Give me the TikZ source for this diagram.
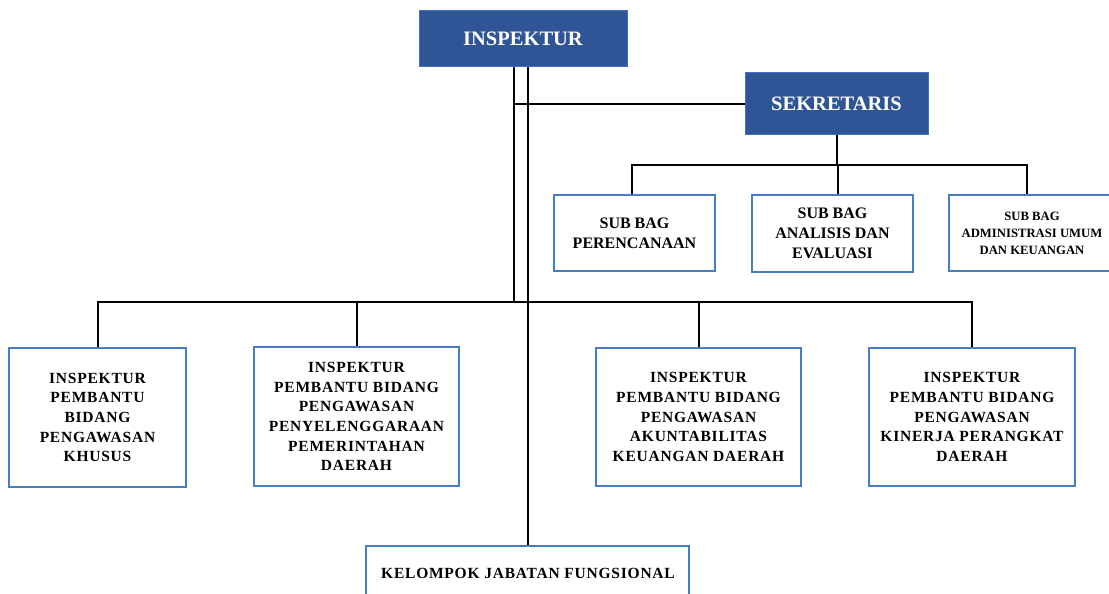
\documentclass[tikz,border=0pt]{standalone}
\usepackage{fontspec}
\setmainfont{Liberation Serif}
\newfontfamily\spacedfont[LetterSpace=5]{Liberation Serif}
\definecolor{headfill}{RGB}{47,85,151}
\definecolor{headedge}{RGB}{65,113,196}
\definecolor{boxedge}{RGB}{70,125,195}
\begin{document}
\begin{tikzpicture}[x=1pt,y=-1pt,
  head/.style={draw=headedge,line width=1pt,fill=headfill,text=white,font=\bfseries\fontsize{20.5}{24}\selectfont,inner sep=0pt},
  unit/.style={draw=boxedge,line width=2pt,fill=white,align=center,font=\spacedfont\bfseries\fontsize{15.5}{19.7}\selectfont,inner sep=0pt},
  conn/.style={draw=black,line width=2pt}]
\useasboundingbox (0,0) rectangle (1109,594);
% heads
\node[head,minimum width=208pt,minimum height=56pt] (insp) at (523,39) {INSPEKTUR};
\node[head,minimum width=183pt,minimum height=61pt] (sek) at (836.5,103.5) {SEKRETARIS};
% sub bag
\node[unit,minimum width=161pt,minimum height=76pt,font=\rmfamily\bfseries\fontsize{16}{20}\selectfont] (s1) at (634.5,233) {SUB BAG\\PERENCANAAN};
\node[unit,minimum width=161pt,minimum height=77pt,font=\rmfamily\bfseries\fontsize{16}{20}\selectfont] (s2) at (832.5,233.5) {SUB BAG\\ANALISIS DAN\\EVALUASI};
\node[unit,minimum width=166pt,minimum height=76pt,font=\rmfamily\bfseries\fontsize{12.7}{17}\selectfont] (s3) at (1032,233) {SUB BAG\\ADMINISTRASI UMUM\\DAN KEUANGAN};
% bidang
\node[unit,minimum width=177pt,minimum height=139pt] (b1) at (97.5,417.5) {INSPEKTUR\\PEMBANTU\\BIDANG\\PENGAWASAN\\KHUSUS};
\node[unit,minimum width=205pt,minimum height=139pt] (b2) at (356.5,416.5) {INSPEKTUR\\PEMBANTU BIDANG\\PENGAWASAN\\PENYELENGGARAAN\\PEMERINTAHAN\\DAERAH};
\node[unit,minimum width=205pt,minimum height=138pt] (b3) at (698.5,417) {INSPEKTUR\\PEMBANTU BIDANG\\PENGAWASAN\\AKUNTABILITAS\\KEUANGAN DAERAH};
\node[unit,minimum width=206pt,minimum height=138pt] (b4) at (972,417) {INSPEKTUR\\PEMBANTU BIDANG\\PENGAWASAN\\KINERJA PERANGKAT\\DAERAH};
% kelompok
\node[unit,minimum width=323pt,minimum height=57pt,anchor=north] (kel) at (527.5,545) {};
\node[font=\spacedfont\bfseries\fontsize{15.5}{19}\selectfont] (kelt) at (528,573) {KELOMPOK JABATAN FUNGSIONAL};
% junction coordinates
\coordinate (bar) at (0,302);
\coordinate (sbar) at (0,165);
% connectors
\draw[conn] ([xshift=-9pt]insp.south) -- ([xshift=-9pt]insp.south |- bar);
\draw[conn] ([xshift=-9pt]insp.south |- sek.west) -- (sek.west);
\draw[conn] (kel.north) -- (kel.north |- insp.south);
\draw[conn] (b1.north) -- (b1.north |- bar) -- (b4.north |- bar) -- (b4.north);
\draw[conn] (b2.north) -- (b2.north |- bar);
\draw[conn] (b3.north) -- (b3.north |- bar);
\draw[conn] (sek.south) -- (sek.south |- sbar);
\draw[conn] ([xshift=-2.5pt]s1.north) -- ([xshift=-2.5pt]s1.north |- sbar) -- ([xshift=-5pt]s3.north |- sbar) -- ([xshift=-5pt]s3.north);
\draw[conn] ([xshift=5.5pt]s2.north) -- ([xshift=5.5pt]s2.north |- sbar);
\end{tikzpicture}
\end{document}
